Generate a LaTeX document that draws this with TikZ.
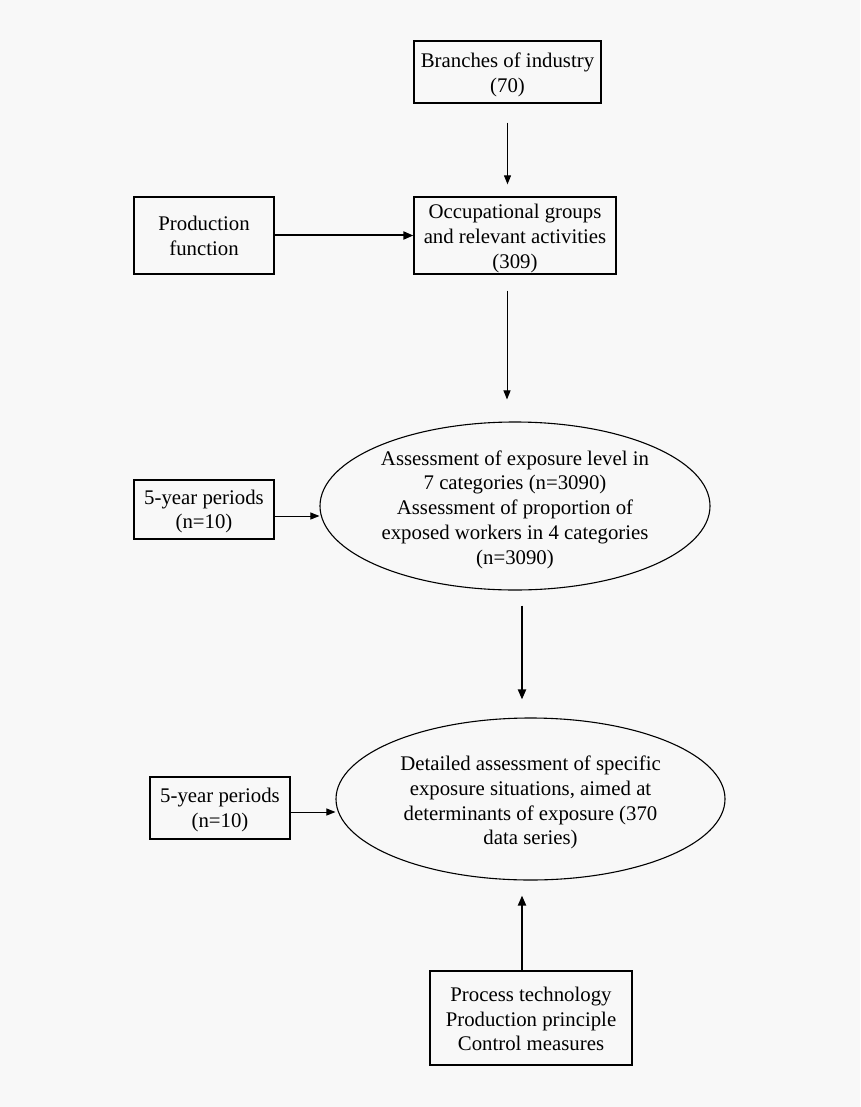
\documentclass[tikz,border=0pt]{standalone}
\usepackage{fontspec}
\setmainfont{Liberation Serif}
\usetikzlibrary{arrows.meta,shapes.geometric}
\definecolor{bg}{HTML}{F8F8F8}
\begin{document}
\begin{tikzpicture}[x=1pt,y=-1pt,
  every node/.style={font=\rmfamily\fontsize{20.8}{24.8}\selectfont, align=center, inner sep=0pt},
  box/.style={draw, line width=1.3pt, rectangle},
  thickbox/.style={draw, line width=2pt, rectangle},
  oval/.style={draw, line width=1.1pt, ellipse},
  thin/.style={line width=1pt, -{Triangle[length=9pt,width=7pt]}},
  thick/.style={line width=2pt, -{Triangle[length=10pt,width=8pt]}}]
\fill[bg] (0,0) rectangle (860,1107);
\useasboundingbox (0,0) rectangle (860,1107);

\node[box, minimum width=187, minimum height=62] (br) at (507.5,72) {};
\node (brt) at ([yshift=-3pt]br.center) {Branches of industry\\(70)};
\node[box, minimum width=202, minimum height=77] (occ) at (515,235.5) {};
\node (occt) at ([yshift=-3pt]occ.center) {Occupational groups\\and relevant activities\\(309)};
\node[box, minimum width=140, minimum height=77] (pf) at (204,235.5) {};
\node (pft) at ([yshift=-0.5pt]pf.center) {Production\\function};
\node[oval, minimum width=390, minimum height=168] (e1) at (515,506) {};
\node (e1t) at (515,509.5) {Assessment of exposure level in\\7 categories (n=3090)\\Assessment of proportion of\\exposed workers in 4 categories\\(n=3090)};
\node[box, minimum width=140, minimum height=59] (y1) at (204,509.5) {};
\node (y1t) at ([yshift=-2pt]y1.center) {5-year periods\\(n=10)};
\node[oval, minimum width=389, minimum height=162] (e2) at (530.5,799) {};
\node (e2t) at (530.5,802.5) {Detailed assessment of specific\\exposure situations, aimed at\\determinants of exposure (370\\data series)};
\node[thickbox, minimum width=140, minimum height=62] (y2) at (220,808) {};
\node (y2t) at ([yshift=-2pt]y2.center) {5-year periods\\(n=10)};
\node[thickbox, minimum width=202, minimum height=94] (pt) at (531,1018) {};
\node (ptt) at ([yshift=-1pt]pt.center) {Process technology\\Production principle\\Control measures};

\draw[thin, shorten <=19pt, shorten >=12pt] (br.south) -- (br.south |- occ.north);
\draw[thick] (pf.east) -- (occ.west);
\draw[thin, shorten <=16pt, shorten >=22pt] ([xshift=-8pt]occ.south) -- ([xshift=-8pt]occ.south |- e1.north);
\draw[thin] (y1.east |- e1.center) ++(0,10) coordinate (a1) (y1.east |- a1) -- (e1.west |- a1);
\draw[thick, shorten <=15pt, shorten >=18pt] ([xshift=7pt]e1.south) -- ([xshift=7pt]e1.south |- e2.north);
\draw[thin] (y2.east |- 0,812) -- (e2.west |- 0,812);
\draw[thick, shorten >=15pt] ([xshift=-9pt]pt.north) -- ([xshift=-9pt]pt.north |- e2.south);
\end{tikzpicture}
\end{document}
